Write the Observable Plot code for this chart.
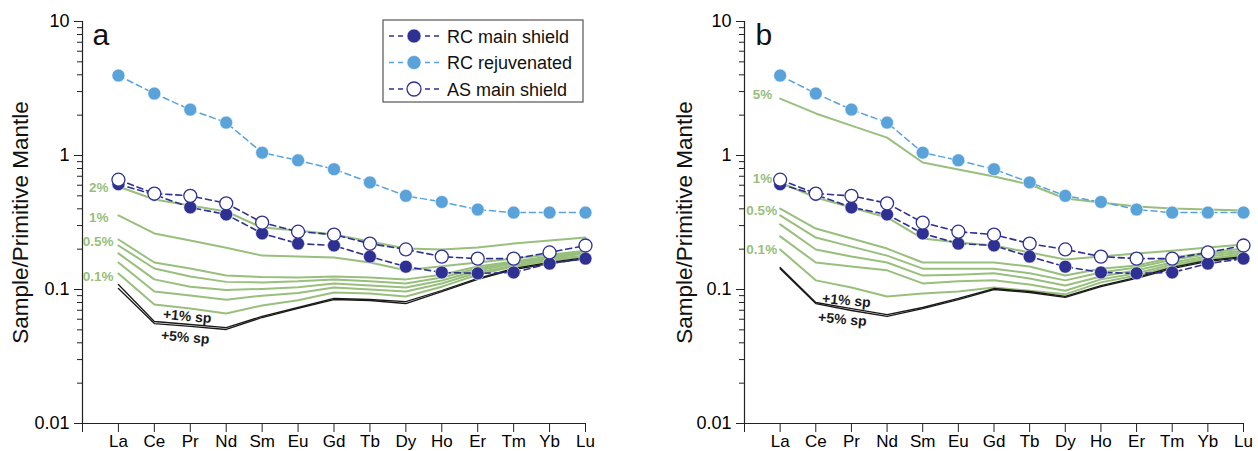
<!DOCTYPE html>
<html><head><meta charset="utf-8">
<script src="https://cdn.jsdelivr.net/npm/d3@7"></script>
<script src="https://cdn.jsdelivr.net/npm/@observablehq/plot@0.6"></script>
<style>
body{margin:0;background:#fff;}
#wrap{position:relative;width:1258px;height:451px;font-family:"Liberation Sans",Arial,Helvetica,sans-serif;}
.panel{position:absolute;top:0;}
</style></head><body><div id="wrap"></div>
<script>
// ---- categories & tick labels ----
const elements = ["La","Ce","Pr","Nd","Sm","Eu","Gd","Tb","Dy","Ho","Er","Tm","Yb","Lu"];
const majorTicks = [0.01, 0.1, 1, 10];
const minorMultipliers = [2,3,4,5,6,7,8,9];

// ---- samples (same in both panels) ----
const rcMainShield  = [0.61, 0.51, 0.41, 0.363, 0.262, 0.22, 0.213, 0.176, 0.148, 0.134, 0.132, 0.134, 0.156, 0.170];
const rcRejuvenated = [3.95, 2.90, 2.20, 1.76, 1.05, 0.92, 0.79, 0.63, 0.50, 0.45, 0.395, 0.375, 0.375, 0.375];
const asMainShield  = [0.66, 0.52, 0.50, 0.44, 0.316, 0.27, 0.257, 0.22, 0.199, 0.176, 0.170, 0.170, 0.189, 0.213];

// ---- panel a melting models ----
const a_2pct  = [0.587, 0.469, 0.424, 0.382, 0.290, 0.276, 0.257, 0.228, 0.202, 0.199, 0.206, 0.220, 0.232, 0.244];
const a_1pct  = [0.357, 0.262, 0.232, 0.205, 0.179, 0.176, 0.173, 0.159, 0.139, 0.149, 0.159, 0.170, 0.182, 0.195];
const a_05pct = [0.236, 0.159, 0.1435, 0.127, 0.124, 0.123, 0.125, 0.123, 0.119, 0.129, 0.1485, 0.162, 0.176, 0.192];
const a_04pct = [0.213, 0.1435, 0.125, 0.114, 0.113, 0.115, 0.119, 0.115, 0.111, 0.123, 0.1435, 0.159, 0.173, 0.189];
const a_03pct = [0.186, 0.119, 0.105, 0.099, 0.101, 0.104, 0.111, 0.107, 0.1035, 0.1167, 0.1386, 0.156, 0.170, 0.186];
const a_02pct = [0.159, 0.0966, 0.0902, 0.084, 0.090, 0.094, 0.1035, 0.100, 0.0966, 0.111, 0.134, 0.151, 0.1675, 0.179];
const a_01pct = [0.1316, 0.0773, 0.0722, 0.0662, 0.076, 0.083, 0.095, 0.0933, 0.0887, 0.105, 0.129, 0.1485, 0.1646, 0.176];
const a_sp1   = [0.109, 0.0577, 0.0548, 0.052, 0.063, 0.0734, 0.0857, 0.0842, 0.0813, 0.0983, 0.121, 0.1435, 0.159, 0.173];
const a_sp5   = [0.1017, 0.0557, 0.053, 0.0503, 0.0618, 0.0722, 0.0842, 0.0828, 0.0786, 0.0966, 0.119, 0.141, 0.156, 0.170];

// ---- panel b melting models ----
const b_5pct  = [2.66, 2.06, 1.67, 1.36, 0.887, 0.786, 0.697, 0.608, 0.478, 0.446, 0.416, 0.402, 0.396, 0.389];
const b_1pct  = [0.629, 0.486, 0.409, 0.345, 0.240, 0.224, 0.213, 0.189, 0.1675, 0.176, 0.186, 0.195, 0.206, 0.217];
const b_05pct = [0.402, 0.285, 0.240, 0.202, 0.159, 0.159, 0.159, 0.1485, 0.127, 0.143, 0.151, 0.173, 0.189, 0.202];
const b_04pct = [0.357, 0.244, 0.209, 0.179, 0.143, 0.143, 0.143, 0.132, 0.117, 0.134, 0.146, 0.167, 0.183, 0.195];
const b_03pct = [0.306, 0.199, 0.176, 0.159, 0.127, 0.129, 0.132, 0.121, 0.107, 0.125, 0.139, 0.159, 0.176, 0.189];
const b_02pct = [0.249, 0.159, 0.1485, 0.139, 0.111, 0.115, 0.117, 0.109, 0.098, 0.119, 0.132, 0.154, 0.170, 0.183];
const b_01pct = [0.199, 0.117, 0.1035, 0.0887, 0.0934, 0.0966, 0.1035, 0.098, 0.092, 0.113, 0.127, 0.1485, 0.167, 0.179];
const b_sp1   = [0.146, 0.080, 0.072, 0.065, 0.0734, 0.0857, 0.1017, 0.0966, 0.0887, 0.107, 0.123, 0.146, 0.165, 0.176];
const b_sp5   = [0.143, 0.0786, 0.0697, 0.0629, 0.0721, 0.0842, 0.100, 0.095, 0.0872, 0.105, 0.121, 0.143, 0.162, 0.173];

const legendLabels = ["RC main shield", "RC rejuvenated", "AS main shield"];

const GREEN = "#98bf7c", DARK = "#2e3192", LIGHT = "#5aa3da", INK = "#1a1a1a";
const FONT = '"Liberation Sans", Arial, Helvetica, sans-serif';

function rows(values, series) {
  return values.map((v, i) => ({series, idx: i + 1, el: elements[i], v}));
}

function panel(cfg) {
  const minor = majorTicks.slice(0, -1).flatMap(t => minorMultipliers.map(m => +(t * m).toPrecision(3)));
  const greenRows = cfg.models.flatMap(m => rows(m.values, m.name));
  const blackRows = cfg.sp.flatMap(m => rows(m.values, m.name));
  const labelMarks = cfg.labels.map(l => Plot.text([{idx: l.at + 1, v: l.values[l.at]}], {
    x: "idx", y: "v", text: () => l.text, dx: l.dx, dy: l.dy, textAnchor: l.anchor || "end",
    fill: l.color, fontWeight: "bold", fontSize: l.size, rotate: l.rotate || 0
  }));
  const chart = Plot.plot({
    width: cfg.width, height: 451,
    marginTop: 21, marginBottom: 28, marginLeft: cfg.marginLeft, marginRight: cfg.marginRight,
    style: {fontFamily: FONT, background: "transparent", overflow: "visible", color: "#000"},
    x: {type: "linear", domain: [0, 14]},
    y: {type: "log", domain: [0.01, 10]},
    marks: [
      Plot.axisY({ticks: majorTicks, tickSize: 8, tickPadding: 5, tickFormat: d => String(d), fontSize: 18, stroke: "#222", label: null}),
      Plot.axisY({ticks: minor, tickSize: 5, tickFormat: () => "", stroke: "#222", label: null}),
      Plot.axisX({ticks: d3.range(0, elements.length + 1), tickSize: 9, tickPadding: 2, tickFormat: i => elements[i - 1] ?? "", fontSize: 17, stroke: "#222", label: null}),
      Plot.ruleX([0], {stroke: "#222", strokeWidth: 1.2}),
      Plot.ruleY([0.01], {stroke: "#222", strokeWidth: 1.2}),
      Plot.text(["Sample/Primitive Mantle"], {frameAnchor: "left", textAnchor: "middle", dx: cfg.ylabelDx, rotate: -90, fontSize: 22.5, text: d => d, fill: "#111"}),
      Plot.text([cfg.letter], {frameAnchor: "top-left", dx: cfg.letterDx, dy: 2, fontSize: 30, textAnchor: "start", lineAnchor: "top", text: d => d, fill: "#111"}),
      Plot.line(greenRows, {x: "idx", y: "v", z: "series", stroke: GREEN, strokeWidth: 2}),
      Plot.line(blackRows, {x: "idx", y: "v", z: "series", stroke: INK, strokeWidth: 1.3}),
      ...labelMarks,
      Plot.line(rows(rcRejuvenated, "rcr"), {x: "idx", y: "v", stroke: LIGHT, strokeWidth: 1.5, strokeDasharray: "6,4"}),
      Plot.dot(rows(rcRejuvenated, "rcr"), {x: "idx", y: "v", r: 6.5, fill: LIGHT, stroke: "white", strokeWidth: 0.6}),
      Plot.line(rows(rcMainShield, "rcm"), {x: "idx", y: "v", stroke: DARK, strokeWidth: 1.6, strokeDasharray: "6,4"}),
      Plot.dot(rows(rcMainShield, "rcm"), {x: "idx", y: "v", r: 6.5, fill: DARK, stroke: "white", strokeWidth: 0.6}),
      Plot.line(rows(asMainShield, "asm"), {x: "idx", y: "v", stroke: DARK, strokeWidth: 1.6, strokeDasharray: "6,4"}),
      Plot.dot(rows(asMainShield, "asm"), {x: "idx", y: "v", r: 6.5, fill: "white", stroke: DARK, strokeWidth: 1.3})
    ]
  });
  const div = document.createElement("div");
  div.className = "panel";
  div.style.left = cfg.left + "px";
  div.appendChild(chart);
  document.getElementById("wrap").appendChild(div);
  return div;
}

panel({
  letter: "a", left: 0, width: 620, marginLeft: 82, marginRight: 35, ylabelDx: -62, letterDx: 10,
  models: [
    {name: "2%", values: a_2pct}, {name: "1%", values: a_1pct}, {name: "0.5%", values: a_05pct},
    {name: "0.4%", values: a_04pct}, {name: "0.3%", values: a_03pct}, {name: "0.2%", values: a_02pct},
    {name: "0.1%", values: a_01pct}
  ],
  sp: [{name: "+1% sp", values: a_sp1}, {name: "+5% sp", values: a_sp5}],
  labels: [
    {text: "2%", values: a_2pct, at: 0, dx: -10, dy: 1, color: GREEN, size: 13.5},
    {text: "1%", values: a_1pct, at: 0, dx: -10, dy: 2, color: GREEN, size: 13.5},
    {text: "0.5%", values: a_05pct, at: 0, dx: -5, dy: 2, color: GREEN, size: 13.5},
    {text: "0.1%", values: a_01pct, at: 0, dx: -5, dy: 3, color: GREEN, size: 13.5},
    {text: "+1% sp", values: a_sp1, at: 2, dx: -3, dy: -8, anchor: "middle", color: INK, size: 14, rotate: 5},
    {text: "+5% sp", values: a_sp5, at: 2, dx: -5, dy: 11, anchor: "middle", color: INK, size: 14, rotate: 5}
  ]
});

panel({
  letter: "b", left: 660, width: 598, marginLeft: 84, marginRight: 15, ylabelDx: -60, letterDx: 11,
  models: [
    {name: "5%", values: b_5pct}, {name: "1%", values: b_1pct}, {name: "0.5%", values: b_05pct},
    {name: "0.4%", values: b_04pct}, {name: "0.3%", values: b_03pct}, {name: "0.2%", values: b_02pct},
    {name: "0.1%", values: b_01pct}
  ],
  sp: [{name: "+1% sp", values: b_sp1}, {name: "+5% sp", values: b_sp5}],
  labels: [
    {text: "5%", values: b_5pct, at: 0, dx: -8, dy: -4, color: GREEN, size: 13.5},
    {text: "1%", values: b_1pct, at: 0, dx: -8, dy: -4, color: GREEN, size: 13.5},
    {text: "0.5%", values: b_05pct, at: 0, dx: -3, dy: 2, color: GREEN, size: 13.5},
    {text: "0.1%", values: b_01pct, at: 0, dx: -3, dy: 0, color: GREEN, size: 13.5},
    {text: "+1% sp", values: b_sp1, at: 2, dx: -5, dy: -8, anchor: "middle", color: INK, size: 14, rotate: 5},
    {text: "+5% sp", values: b_sp5, at: 2, dx: -9, dy: 9, anchor: "middle", color: INK, size: 14, rotate: 5}
  ]
});

// ---- legend (panel a) ----
const leg = d3.select("#wrap").append("svg")
  .attr("width", 204).attr("height", 86)
  .style("position", "absolute").style("left", "381px").style("top", "18px");
leg.append("rect").attr("x", 2).attr("y", 2).attr("width", 200).attr("height", 82)
  .attr("fill", "white").attr("stroke", "#555").attr("stroke-width", 1.2);
const legendStyles = [
  {line: DARK, fill: DARK, stroke: "white"},
  {line: LIGHT, fill: LIGHT, stroke: "white"},
  {line: DARK, fill: "white", stroke: DARK}
];
legendLabels.forEach((lab, i) => {
  const y = 18 + i * 26.5;
  const s = legendStyles[i];
  const g = leg.append("g");
  g.append("line").attr("x1", 8).attr("x2", 60).attr("y1", y).attr("y2", y)
    .attr("stroke", s.line).attr("stroke-width", 1.5).attr("stroke-dasharray", "5,4");
  g.append("circle").attr("cx", 33).attr("cy", y).attr("r", 7)
    .attr("fill", s.fill).attr("stroke", s.stroke).attr("stroke-width", s.fill === "white" ? 1.3 : 0.6);
  g.append("text").attr("x", 66).attr("y", y + 6.5).attr("font-size", 18)
    .attr("font-family", FONT).attr("fill", "#111").text(lab);
});
</script></body></html>
